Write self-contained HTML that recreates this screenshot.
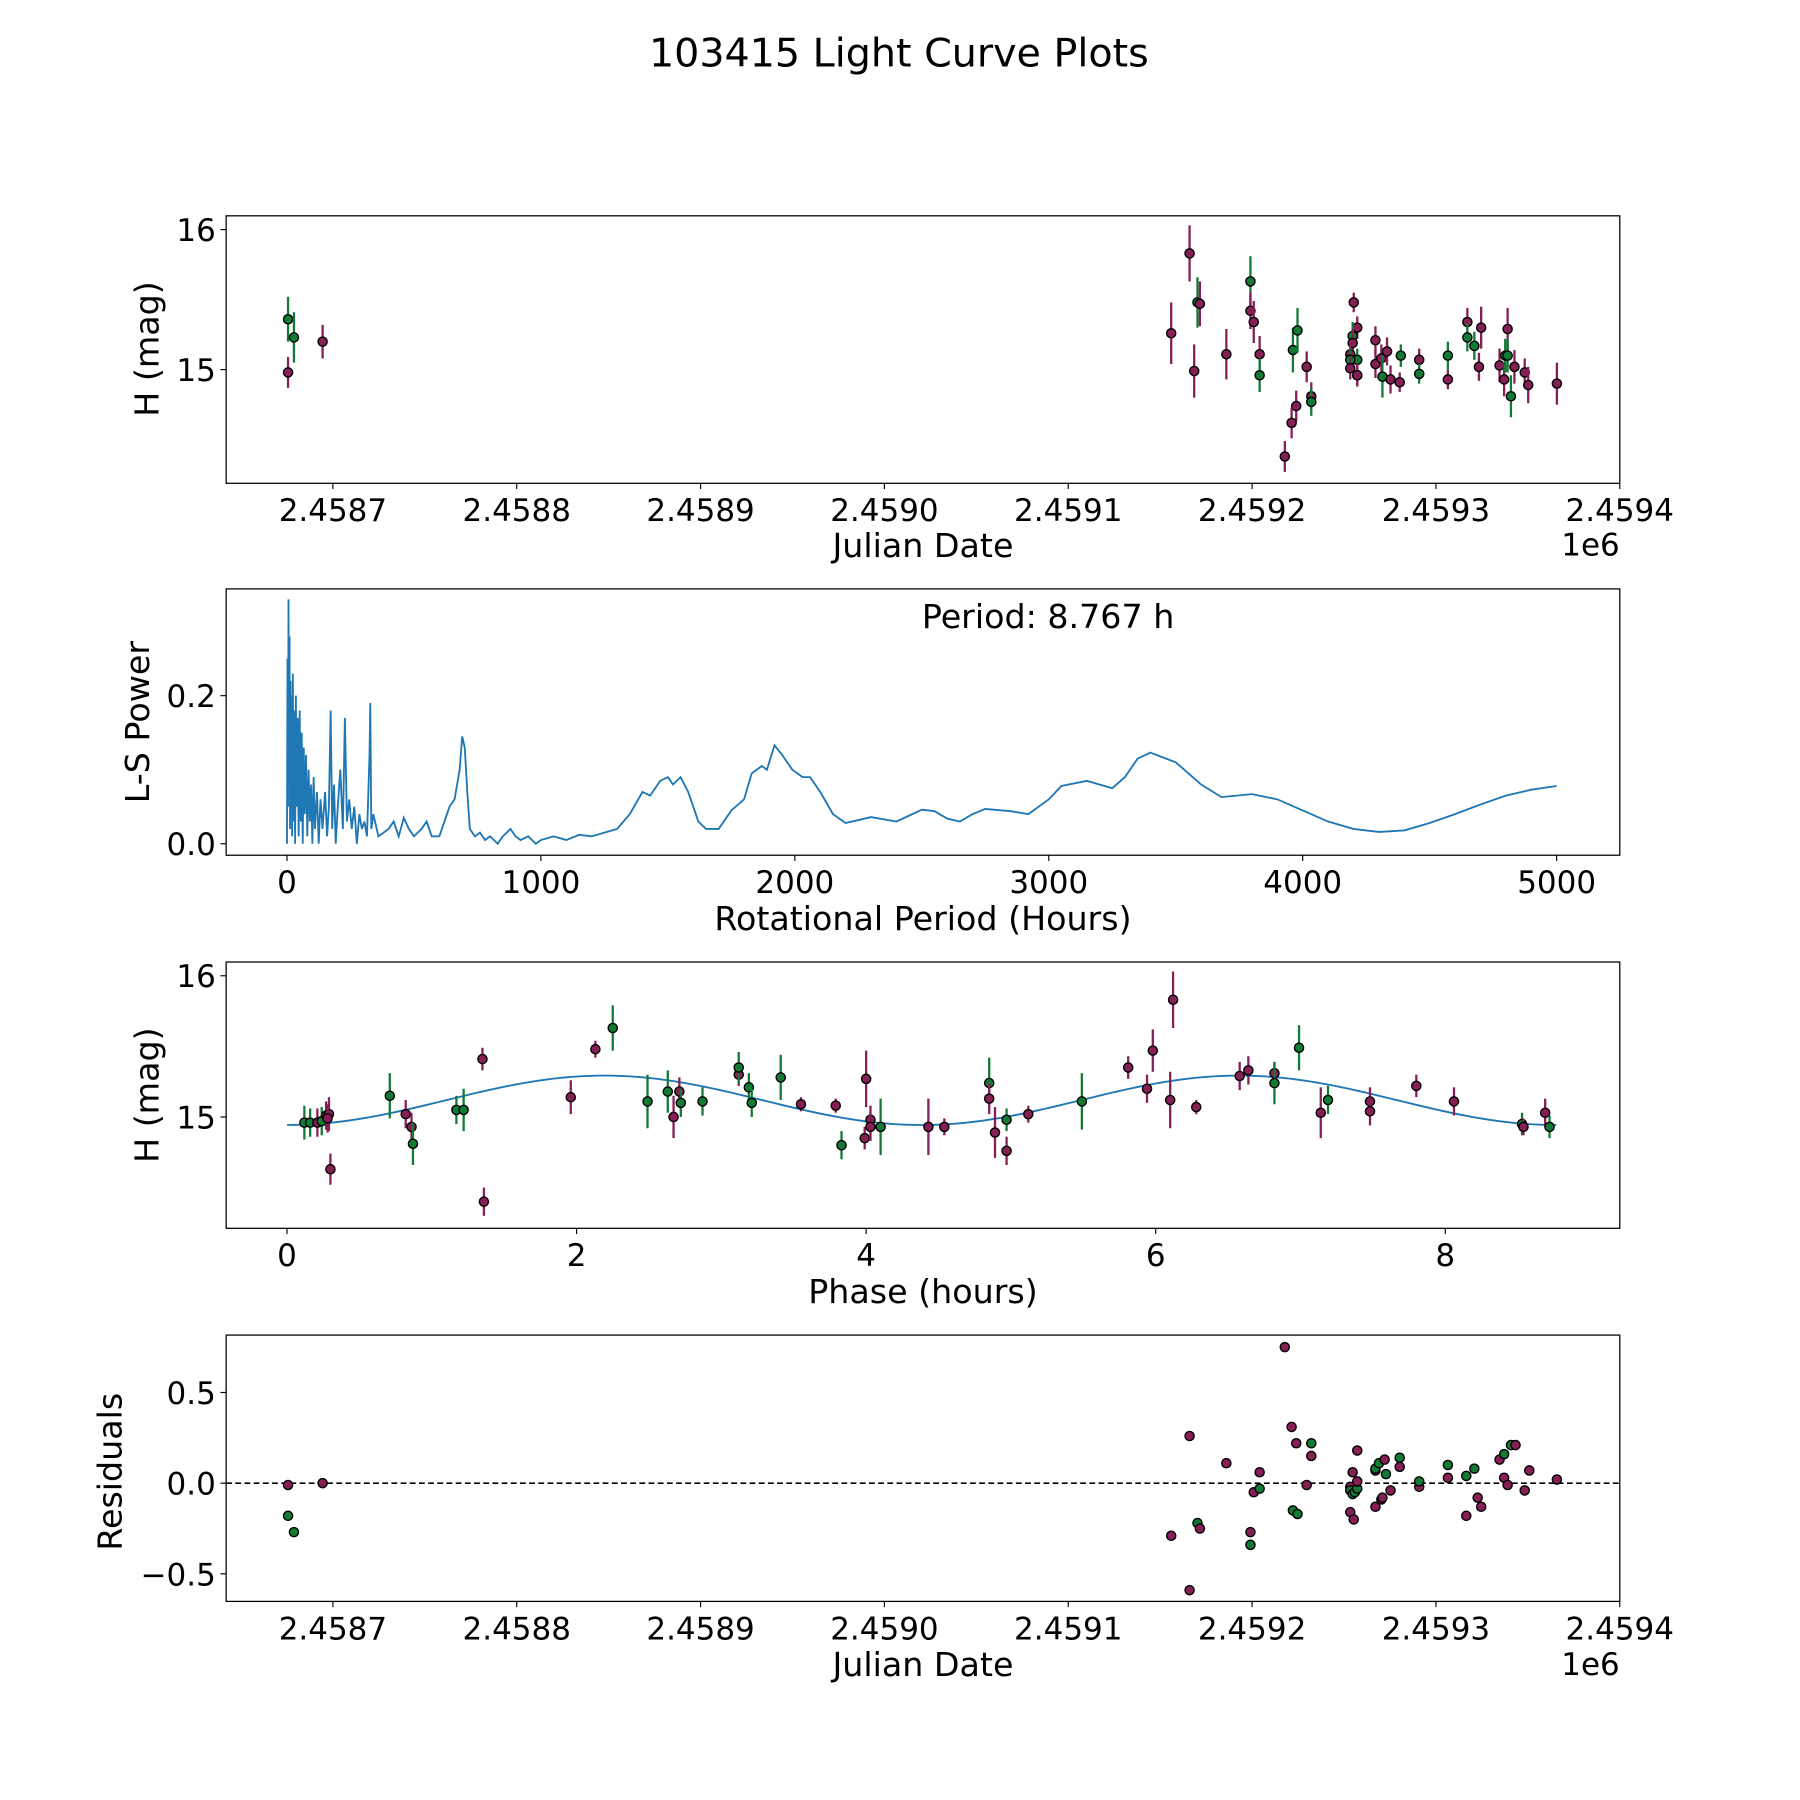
<!DOCTYPE html>
<html><head><meta charset="utf-8"><title>103415 Light Curve Plots</title>
<style>html,body{margin:0;padding:0;background:#fff}svg{display:block}text{font-family:"DejaVu Sans","Liberation Sans",sans-serif;fill:#000}</style>
</head><body>
<svg id="fig" xmlns="http://www.w3.org/2000/svg" width="1800" height="1800" viewBox="0 0 1568 1568">
<rect width="1568" height="1568" fill="#fff"/>
<text x="783" y="58" font-size="34.5" text-anchor="middle">103415 Light Curve Plots</text>
</svg>
<script>
// ---- data: light curve (JD - 2450000, H mag, error, filter 0=maroon 1=green)
const lcJD=[8675.6,8678.8,8675.6,8694.4,9156.0,9166.0,9170.3,9171.6,9168.5,9186.0,9199.1,9199.1,9200.9,9204.1,9204.1,9222.2,9224.7,9229.7,9232.2,9232.2,9224.0,9221.5,9217.8,9255.3,9257.2,9254.7,9254.7,9253.4,9257.2,9253.4,9253.4,9257.2,9257.2,9267.1,9267.1,9270.3,9273.4,9270.9,9275.3,9280.3,9280.9,9290.9,9290.9,9306.5,9306.5,9317.1,9317.1,9320.9,9323.4,9324.6,9334.6,9337.1,9337.7,9339.0,9339.0,9340.8,9342.7,9348.3,9350.2,9365.8];
const lcMag=[15.36,15.23,14.98,15.20,15.26,15.83,15.48,15.47,14.99,15.11,15.63,15.42,15.34,15.11,14.96,15.14,15.28,15.02,14.81,14.77,14.74,14.62,14.38,15.48,15.30,15.24,15.19,15.11,15.07,15.07,15.01,14.96,14.96,15.21,15.04,15.08,15.13,14.95,14.93,14.91,15.10,15.07,14.97,14.93,15.10,15.34,15.23,15.17,15.02,15.30,15.03,14.93,15.10,15.29,15.10,14.81,15.02,14.98,14.89,14.90];
const lcErr=[0.16,0.18,0.11,0.12,0.22,0.2,0.18,0.16,0.19,0.18,0.18,0.13,0.15,0.13,0.12,0.16,0.16,0.11,0.1,0.1,0.11,0.11,0.11,0.07,0.08,0.1,0.1,0.08,0.08,0.08,0.08,0.08,0.08,0.1,0.1,0.1,0.1,0.15,0.1,0.07,0.08,0.08,0.07,0.07,0.1,0.1,0.1,0.1,0.1,0.15,0.12,0.12,0.12,0.15,0.12,0.15,0.12,0.1,0.13,0.15];
const lcFilt=[1,1,0,0,0,0,1,0,0,0,1,0,0,0,1,1,1,0,0,1,0,0,0,0,0,1,0,0,1,1,0,0,0,0,0,0,0,1,0,0,1,0,1,0,1,0,1,1,0,0,0,0,1,0,1,1,0,0,0,0];
// ---- data: periodogram
const lsPeriod=[0,2,4,6,8,10,12,14,16,18,20,23,26,29,32,35,38,42,46,50,54,58,62,66,70,75,80,85,90,95,100,105,110,118,125,132,140,150,158,165,172,178,185,192,200,210,220,228,236,245,255,265,275,285,295,305,315,325,328,332,340,360,400,420,440,460,480,500,530,550,570,600,620,640,660,680,690,700,710,720,740,760,780,800,830,850,880,900,920,950,980,1000,1050,1100,1150,1200,1250,1300,1350,1400,1430,1470,1500,1520,1550,1580,1620,1650,1700,1750,1800,1830,1870,1890,1920,1950,1990,2030,2060,2100,2150,2200,2250,2300,2400,2450,2500,2550,2600,2650,2700,2750,2850,2920,3000,3050,3150,3250,3300,3350,3400,3500,3600,3680,3800,3900,4000,4100,4200,4300,4400,4500,4600,4700,4800,4900,5000];
const lsPower=[0,0.25,0.05,0.33,0.1,0.28,0.02,0.22,0.05,0.2,0.01,0.23,0.03,0.18,0,0.2,0.05,0.17,0.01,0.18,0.03,0.15,0,0.13,0.04,0.12,0.01,0.1,0.03,0.08,0,0.09,0.02,0.07,0,0.06,0.02,0.07,0.01,0.05,0.18,0.02,0.08,0,0.05,0.1,0.02,0.17,0.03,0.06,0.02,0.05,0,0.04,0.02,0.03,0.01,0.12,0.19,0.02,0.04,0.01,0.02,0.03,0.01,0.035,0.02,0.01,0.02,0.03,0.01,0.01,0.03,0.05,0.06,0.1,0.145,0.13,0.07,0.02,0.01,0.015,0.005,0.01,0,0.01,0.02,0.01,0.005,0.01,0,0.005,0.01,0.005,0.012,0.01,0.015,0.02,0.04,0.07,0.065,0.085,0.09,0.08,0.09,0.07,0.03,0.02,0.02,0.045,0.06,0.095,0.105,0.1,0.133,0.12,0.1,0.09,0.09,0.07,0.04,0.028,0.032,0.036,0.03,0.038,0.046,0.044,0.034,0.03,0.04,0.047,0.044,0.04,0.06,0.078,0.085,0.075,0.09,0.115,0.123,0.11,0.08,0.063,0.067,0.06,0.045,0.03,0.02,0.016,0.018,0.028,0.04,0.053,0.065,0.073,0.078];
// ---- data: phase-folded
const phPhase=[0.12,0.16,0.21,0.24,0.27,0.29,0.28,0.30,0.71,0.82,0.86,0.87,1.17,1.22,1.35,1.36,1.96,2.13,2.25,2.49,2.63,2.67,2.71,2.72,2.87,3.12,3.12,3.19,3.21,3.41,3.55,3.79,3.83,4.00,3.99,4.03,4.03,4.10,4.43,4.54,4.85,4.85,4.89,4.97,4.97,5.12,5.49,5.81,5.94,5.98,6.10,6.12,6.28,6.58,6.64,6.82,6.82,6.99,7.14,7.19,7.48,7.48,7.80,8.06,8.53,8.54,8.69,8.72];
const phMag=[14.96,14.96,14.96,14.97,15.01,15.02,14.99,14.63,15.15,15.02,14.93,14.81,15.05,15.05,15.41,14.40,15.14,15.48,15.63,15.11,15.18,15.0,15.18,15.1,15.11,15.3,15.35,15.21,15.1,15.28,15.09,15.08,14.8,15.27,14.85,14.98,14.93,14.93,14.93,14.93,15.24,15.13,14.89,14.76,14.98,15.02,15.11,15.35,15.2,15.47,15.12,15.83,15.07,15.29,15.33,15.31,15.24,15.49,15.03,15.12,15.11,15.04,15.22,15.11,14.95,14.93,15.03,14.93];
const phErr=[0.12,0.1,0.1,0.1,0.1,0.12,0.1,0.11,0.16,0.1,0.1,0.15,0.1,0.15,0.08,0.1,0.12,0.06,0.16,0.19,0.15,0.15,0.1,0.1,0.1,0.08,0.11,0.1,0.1,0.16,0.05,0.05,0.1,0.2,0.08,0.1,0.1,0.2,0.2,0.06,0.18,0.11,0.18,0.1,0.08,0.06,0.2,0.08,0.1,0.15,0.2,0.2,0.05,0.1,0.1,0.08,0.15,0.16,0.18,0.1,0.1,0.1,0.08,0.1,0.08,0.06,0.1,0.08];
const phFilt=[1,1,0,1,0,0,0,0,1,0,0,1,1,1,0,0,0,0,1,1,1,0,0,1,1,0,1,1,1,1,0,0,1,0,0,0,0,1,0,0,1,0,0,0,1,0,1,0,0,0,0,0,0,0,0,0,1,1,0,1,0,0,0,0,1,0,0,1];
const modelPeriod=8.767, modelMean=15.118, modelAmp=0.175;
// ---- data: residuals
const resJD=[8675.6,8675.6,8678.8,8694.4,9156.0,9166.0,9170.3,9171.6,9166.0,9186.0,9199.1,9199.1,9200.9,9204.1,9204.1,9217.8,9221.5,9222.2,9224.7,9224.0,9232.2,9232.2,9229.7,9253.4,9253.4,9253.4,9254.7,9254.7,9255.3,9255.9,9257.2,9257.2,9257.2,9267.1,9267.1,9267.1,9270.3,9269.0,9272.1,9272.8,9270.9,9275.3,9280.3,9280.3,9290.9,9290.9,9306.5,9306.5,9316.5,9316.5,9320.9,9324.6,9322.7,9334.6,9337.1,9337.1,9339.0,9340.8,9343.3,9348.3,9350.8,9365.8];
const resVal=[-0.01,-0.18,-0.27,0.0,-0.29,0.26,-0.22,-0.25,-0.59,0.11,-0.27,-0.34,-0.05,0.06,-0.03,0.75,0.31,-0.15,-0.17,0.22,0.22,0.15,-0.01,-0.02,-0.16,-0.04,0.06,-0.06,-0.2,-0.05,0.18,-0.03,0.01,0.07,0.08,-0.13,-0.09,0.11,0.13,0.05,-0.08,-0.04,0.14,0.09,-0.02,0.01,0.1,0.03,-0.18,0.04,0.08,-0.13,-0.08,0.13,0.16,0.03,-0.01,0.21,0.21,-0.04,0.07,0.02];
const resFilt=[0,1,1,0,0,0,1,0,0,0,0,1,0,0,1,0,0,1,1,0,1,0,0,0,0,1,0,1,0,1,0,1,0,0,1,0,0,1,0,1,0,0,1,0,0,1,1,0,0,1,1,0,0,0,1,0,0,1,0,0,0,0];

const NS='http://www.w3.org/2000/svg';
const svg=document.getElementById('fig');
const COLORS=['#861f55','#137a35'];
function mk(tag,attrs,parent){const e=document.createElementNS(NS,tag);for(const k in attrs)e.setAttribute(k,attrs[k]);(parent||svg).appendChild(e);return e;}
function lin(d0,d1,r0,r1){return v=>r0+(v-d0)*(r1-r0)/(d1-d0);}

function axesBox(L,T,R,B,name){
  const r=mk('rect',{x:L,y:T,width:R-L,height:B-T,fill:'none',stroke:'#000','stroke-width':1.1});
  
  
}
function xTicks(vals,labels,sx,B,name){
  vals.forEach((v,i)=>{const x=sx(v);
    const t=mk('line',{x1:x,y1:B,x2:x,y2:B+5,stroke:'#000'});
    
    
    const tx=mk('text',{x:x,y:B+33,'font-size':27,'text-anchor':'middle'});tx.textContent=labels[i];
    
    });
}
function yTicks(vals,labels,sy,L,name){
  vals.forEach((v,i)=>{const y=sy(v);
    const t=mk('line',{x1:L-5,y1:y,x2:L,y2:y,stroke:'#000'});
    
    
    const tx=mk('text',{x:L-9,y:y+10,'font-size':27,'text-anchor':'end'});tx.textContent=labels[i];
    
    });
}
function label(x,y,txt,rot,name){
  const t=mk('text',{x:x,y:y,'font-size':29,'text-anchor':'middle',transform:rot?`rotate(-90 ${x} ${y})`:''});t.textContent=txt;
  
  
}
function errPoints(xs,ys,es,fs,sx,sy,name){
  xs.forEach((xv,i)=>{
    const x=sx(xv),c=COLORS[fs[i]];
    if(es){const l=mk('line',{x1:x,y1:sy(ys[i]-es[i]),x2:x,y2:sy(ys[i]+es[i]),stroke:c,'stroke-width':2});
      
      }
    const p=mk('circle',{cx:x,cy:sy(ys[i]),r:4,fill:c,stroke:'#000','stroke-width':1.2});
    
    
  });
}
const L=197,R=1411;
const jdTicks=[8700,8800,8900,9000,9100,9200,9300,9400];
const jdLabels=['2.4587','2.4588','2.4589','2.4590','2.4591','2.4592','2.4593','2.4594'];
const sxJD=lin(8700,9400,290,1411);

// Panel 1
(function(){const T=188,B=421;const sy=lin(15,16,322,200);
  errPoints(lcJD,lcMag,lcErr,lcFilt,sxJD,sy,'lightcurve');
  axesBox(L,T,R,B,'lightcurve-axes');
  xTicks(jdTicks,jdLabels,sxJD,B,'lightcurve-x');
  yTicks([15,16],['15','16'],sy,L,'lightcurve-y');
  label(804,485,'Julian Date',false,'lightcurve-x-title');
  label(138,304,'H (mag)',true,'lightcurve-y-title');
  const o=mk('text',{x:1411,y:484,'font-size':27,'text-anchor':'end'});o.textContent='1e6';
  
  
})();
// Panel 2
(function(){const T=513,B=745;const sx=lin(0,5000,250,1356),sy=lin(0,0.2,735,606);
  const pl=mk('polyline',{points:lsPeriod.map((p,i)=>sx(p)+','+sy(lsPower[i])).join(' '),fill:'none',stroke:'#1f77b4','stroke-width':1.6});
  
  
  axesBox(L,T,R,B,'periodogram-axes');
  xTicks([0,1000,2000,3000,4000,5000],['0','1000','2000','3000','4000','5000'],sx,B,'periodogram-x');
  yTicks([0,0.2],['0.0','0.2'],sy,L,'periodogram-y');
  label(804,810,'Rotational Period (Hours)',false,'periodogram-x-title');
  label(130,629,'L-S Power',true,'periodogram-y-title');
  const t=mk('text',{x:913,y:547,'font-size':29,'text-anchor':'middle'});t.textContent='Period: 8.767 h';
  
  
})();
// Panel 3
(function(){const T=838,B=1070;const sx=lin(0,8,250,1259),sy=lin(15,16,973,850);
  const pts=[];for(let i=0;i<=200;i++){const ph=modelPeriod*i/200;pts.push(sx(ph)+','+sy(modelMean-modelAmp*Math.cos(4*Math.PI*ph/modelPeriod)));}
  const m=mk('polyline',{points:pts.join(' '),fill:'none',stroke:'#1f77b4','stroke-width':1.6});
  
  
  errPoints(phPhase,phMag,phErr,phFilt,sx,sy,'phase');
  axesBox(L,T,R,B,'phase-axes');
  xTicks([0,2,4,6,8],['0','2','4','6','8'],sx,B,'phase-x');
  yTicks([15,16],['15','16'],sy,L,'phase-y');
  label(804,1135,'Phase (hours)',false,'phase-x-title');
  label(138,954,'H (mag)',true,'phase-y-title');
})();
// Panel 4
(function(){const T=1163,B=1395;const sy=lin(0,0.5,1292,1213);
  const d=mk('line',{x1:L,y1:sy(0),x2:R,y2:sy(0),stroke:'#000','stroke-width':1.4,'stroke-dasharray':'5,3'});
  
  
  errPoints(resJD,resVal,null,resFilt,sxJD,sy,'residual');
  axesBox(L,T,R,B,'residuals-axes');
  xTicks(jdTicks,jdLabels,sxJD,B,'residuals-x');
  yTicks([-0.5,0,0.5],['\u22120.5','0.0','0.5'],sy,L,'residuals-y');
  label(804,1460,'Julian Date',false,'residuals-x-title');
  label(106,1282,'Residuals',true,'residuals-y-title');
  const o=mk('text',{x:1411,y:1459,'font-size':27,'text-anchor':'end'});o.textContent='1e6';
  
  
})();
</script>
</body></html>
